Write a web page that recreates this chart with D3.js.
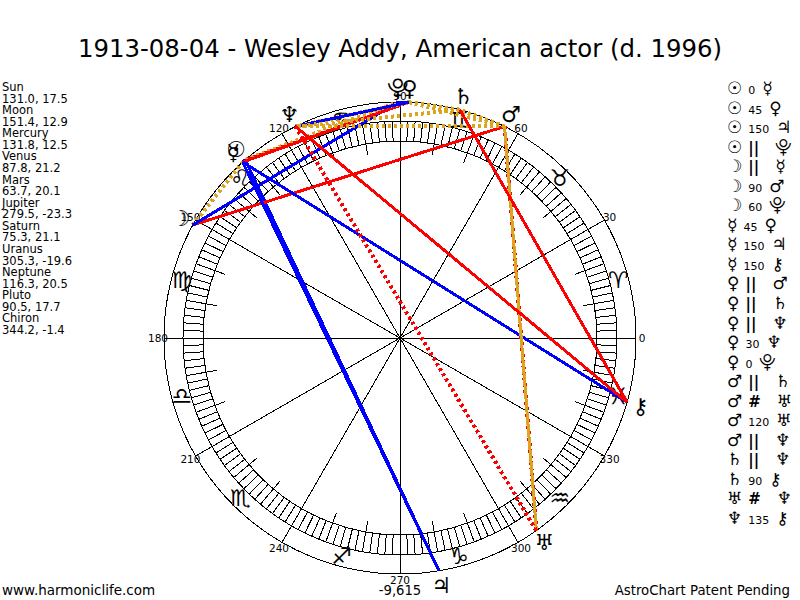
<!DOCTYPE html>
<html lang="en">
<head>
    <meta charset="UTF-8">
    <title>1913-08-04 - Wesley Addy</title>
    <script src="https://d3js.org/d3.v7.min.js"></script>
    <style>
        html, body { margin: 0; padding: 0; background: #fff; }
        svg { display: block; }
        text { font-family: "DejaVu Sans", sans-serif; fill: #000; }
        line, circle { shape-rendering: crispEdges; }
    </style>
</head>
<body>
    <svg id="chart" width="800" height="600"></svg>
    <script>
    // Planet table
    const planetNames = ["Sun", "Moon", "Mercury", "Venus", "Mars", "Jupiter", "Saturn", "Uranus", "Neptune", "Pluto", "Chiron"];
    const planetGlyphs = ["\u2609", "\u263D", "\u263F", "\u2640", "\u2642", "\u2643", "\u2644", "\u2645", "\u2646", "\u2BD3", "\u26B7"];
    const longitudes = [131.0, 151.4, 131.8, 87.8, 63.7, 279.5, 75.3, 305.3, 116.3, 90.5, 344.2];
    const declinations = [17.5, 12.9, 12.5, 21.2, 20.1, -23.3, 21.1, -19.6, 20.5, 17.7, -1.4];

    // Aspects, same order as the list on the right
    const aspectFrom = ["Sun", "Sun", "Sun", "Sun", "Moon", "Moon", "Moon", "Mercury", "Mercury", "Mercury", "Venus", "Venus", "Venus", "Venus", "Venus", "Mars", "Mars", "Mars", "Mars", "Saturn", "Saturn", "Uranus", "Neptune"];
    const aspectKind = ["0", "45", "150", "||", "||", "90", "60", "45", "150", "150", "||", "||", "||", "30", "0", "||", "#", "120", "||", "||", "90", "#", "135"];
    const aspectTo = ["Mercury", "Venus", "Jupiter", "Pluto", "Mercury", "Mars", "Pluto", "Venus", "Jupiter", "Chiron", "Mars", "Saturn", "Neptune", "Neptune", "Pluto", "Saturn", "Uranus", "Uranus", "Neptune", "Neptune", "Chiron", "Neptune", "Chiron"];

    const signGlyphs = ["\u2648", "\u2649", "\u264A", "\u264B", "\u264C", "\u264D", "\u264E", "\u264F", "\u2650", "\u2651", "\u2652", "\u2653"];
    const degreeTicks = [0, 30, 60, 90, 120, 150, 180, 210, 240, 270, 300, 330];
    const title = "1913-08-04 - Wesley Addy, American actor (d. 1996)";

    const svg = d3.select("#chart");
    const cx = 400, cy = 338;
    const rOuter = 236, rBandOut = 217, rBandIn = 197, rTick = 186, rLabel = 242, rSign = 226, rPlanet = 250;

    // 0 degrees at 3 o'clock, running anticlockwise
    const angle = d3.scaleLinear().domain([0, 360]).range([Math.PI / 2, Math.PI / 2 - 2 * Math.PI]);
    const polar = (deg, r) => d3.pointRadial(angle(deg), r);
    const lonOf = name => longitudes[planetNames.indexOf(name)];
    const glyphOf = name => planetGlyphs[planetNames.indexOf(name)];

    svg.append("text").attr("x", 400).attr("y", 57).attr("text-anchor", "middle")
        .attr("font-size", 24.4).text(title);

    const wheel = svg.append("g").attr("transform", `translate(${cx},${cy})`);

    function radial(sel, r0, r1) {
        sel.attr("x1", d => polar(d, r0)[0]).attr("y1", d => polar(d, r0)[1])
           .attr("x2", d => polar(d, r1)[0]).attr("y2", d => polar(d, r1)[1])
           .attr("stroke", "#000").attr("stroke-width", 1);
    }

    // band hatching, 10 degree ticks, 30 degree spokes
    wheel.selectAll("line.hatch").data(d3.range(0, 360, 2)).join("line").attr("class", "hatch")
        .call(radial, rBandIn, rBandOut);
    wheel.selectAll("line.tick").data(d3.range(0, 360, 10)).join("line").attr("class", "tick")
        .call(radial, rTick, rBandOut);
    wheel.selectAll("line.spoke").data(degreeTicks).join("line").attr("class", "spoke")
        .call(radial, 0, rOuter);

    wheel.selectAll("circle").data([rOuter, rBandOut, rBandIn]).join("circle")
        .attr("r", d => d).attr("fill", "none").attr("stroke", "#000").attr("stroke-width", 1);

    wheel.selectAll("text.deg").data(degreeTicks).join("text").attr("class", "deg")
        .attr("x", d => polar(d, rLabel)[0]).attr("y", d => polar(d, rLabel)[1] + 4)
        .attr("text-anchor", "middle").attr("font-size", 10.5).text(d => d);

    wheel.selectAll("text.sign").data(signGlyphs).join("text").attr("class", "sign")
        .attr("x", (d, i) => polar(i * 30 + 15, rSign)[0]).attr("y", (d, i) => polar(i * 30 + 15, rSign)[1] + 8)
        .attr("text-anchor", "middle").attr("font-size", 23).text(d => d);

    // aspect look by kind
    const isBars = k => k === "||" || k === "#";
    const aspectColor = k => (k === "||" || k === "120") ? "#daa520"
        : (k === "45" || k === "90" || k === "135" || k === "#") ? "#ff0000" : "#0000ff";

    const aspects = aspectFrom.map((a, i) => ({ from: a, kind: aspectKind[i], to: aspectTo[i] }));
    wheel.selectAll("line.aspect").data(aspects).join("line").attr("class", "aspect")
        .attr("x1", d => polar(lonOf(d.from), rOuter)[0]).attr("y1", d => polar(lonOf(d.from), rOuter)[1])
        .attr("x2", d => polar(lonOf(d.to), rOuter)[0]).attr("y2", d => polar(lonOf(d.to), rOuter)[1])
        .attr("stroke", d => aspectColor(d.kind))
        .attr("stroke-dasharray", d => isBars(d.kind) ? "3,3" : null)
        .attr("stroke-width", d => isBars(d.kind) ? 4 : 3);

    wheel.selectAll("text.planet").data(planetNames).join("text").attr("class", "planet")
        .attr("x", (d, i) => polar(longitudes[i], rPlanet)[0]).attr("y", (d, i) => polar(longitudes[i], rPlanet)[1] + 8)
        .attr("text-anchor", "middle").attr("font-size", 22).text((d, i) => planetGlyphs[i]);

    // left column
    const left = svg.append("g");
    planetNames.forEach((name, i) => {
        left.append("text").attr("x", 2).attr("y", 91 + i * 23.14).attr("font-size", 11.5).text(name);
        left.append("text").attr("x", 2).attr("y", 102.6 + i * 23.14).attr("font-size", 11.5)
            .text(`${longitudes[i].toFixed(1)}, ${declinations[i].toFixed(1)}`);
    });

    // right column
    const yRow = d3.scalePoint().domain(d3.range(aspects.length)).range([94, 524]);
    const rows = svg.append("g").selectAll("text").data(aspects).join("text")
        .attr("x", 727).attr("y", (d, i) => yRow(i));
    rows.append("tspan").attr("font-size", 17).text(d => glyphOf(d.from));
    rows.append("tspan").attr("dx", 6)
        .attr("font-size", d => isBars(d.kind) ? 15 : 11)
        .attr("font-weight", d => isBars(d.kind) ? "bold" : null)
        .text(d => d.kind);
    rows.append("tspan").attr("dx", d => isBars(d.kind) ? 16 : 7)
        .attr("font-size", 17).text(d => glyphOf(d.to));

    // footer
    svg.append("text").attr("x", 2).attr("y", 595).attr("font-size", 13.5).text("www.harmoniclife.com");
    svg.append("text").attr("x", 400).attr("y", 595).attr("text-anchor", "middle").attr("font-size", 13.2).text("-9,615");
    svg.append("text").attr("x", 790).attr("y", 595).attr("text-anchor", "end").attr("font-size", 13.3).text("AstroChart Patent Pending");
    </script>
</body>
</html>
